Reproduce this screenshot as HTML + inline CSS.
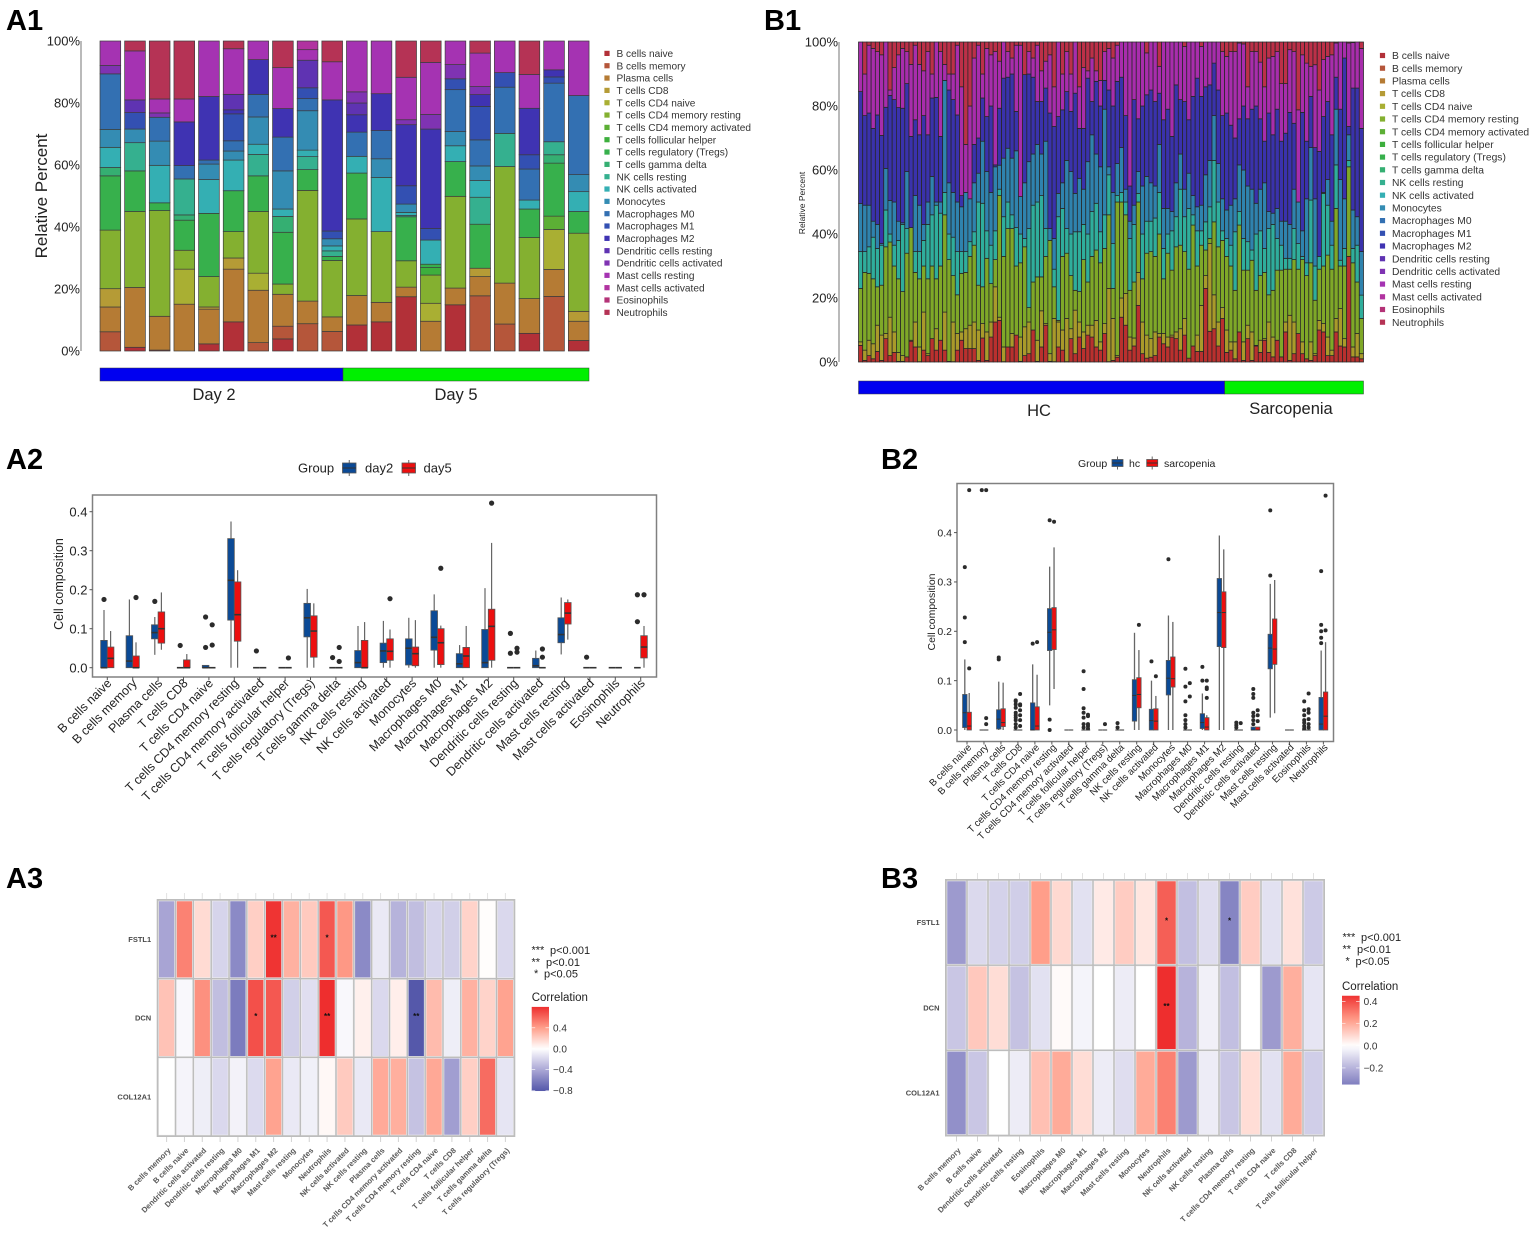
<!DOCTYPE html>
<html lang="en">
<head>
<meta charset="utf-8">
<title>Immune cell composition figure</title>
<style>
html,body{margin:0;padding:0;background:#fff;}
svg{display:block;font-family:"Liberation Sans",Arial,sans-serif;}
</style>
</head>
<body>
<svg id="fig" xmlns="http://www.w3.org/2000/svg" width="1535" height="1235" viewBox="0 0 1535 1235">
<rect x="0" y="0" width="1535" height="1235" fill="#fff"/>
<g font-weight="bold" font-size="29" fill="#000">
<text x="6" y="30">A1</text>
<text x="764" y="30">B1</text>
<text x="6" y="469">A2</text>
<text x="881" y="469">B2</text>
<text x="6" y="888">A3</text>
<text x="881" y="888">B3</text>
</g>
<text transform="translate(47,196) rotate(-90)" text-anchor="middle" font-size="17" fill="#222">Relative Percent</text>
<text transform="translate(805,203) rotate(-90)" text-anchor="middle" font-size="8.5" fill="#222">Relative Percent</text>
<text transform="translate(63,584) rotate(-90)" text-anchor="middle" font-size="12.5" fill="#222">Cell composition</text>
<text transform="translate(935,612) rotate(-90)" text-anchor="middle" font-size="10.5" fill="#222">Cell composition</text>
<g id="a1"></g>
<g id="b1"></g>
<g id="a2"></g>
<g id="b2"></g>
<g id="a3"></g>
<g id="b3"></g>
</svg>
<script>
const cellTypes = ["B cells naive","B cells memory","Plasma cells","T cells CD8","T cells CD4 naive","T cells CD4 memory resting","T cells CD4 memory activated","T cells follicular helper","T cells regulatory (Tregs)","T cells gamma delta","NK cells resting","NK cells activated","Monocytes","Macrophages M0","Macrophages M1","Macrophages M2","Dendritic cells resting","Dendritic cells activated","Mast cells resting","Mast cells activated","Eosinophils","Neutrophils"];
const cellColors = ["#B23038","#B5563A","#B57B34","#B59B36","#A9AF33","#84B030","#5CAF35","#3DAF3D","#37B04C","#35AF72","#35B08F","#34AFB3","#348CB3","#3370B2","#3350B2","#3F33B2","#5F33B2","#7F33B2","#A533B2","#B133A0","#B43377","#B53355"];

const percentTicks = [0,20,40,60,80,100];
const a1Groups = ["Day 2","Day 5"];
const a1GroupSizes = [10,10];
const a1Segments = [
[[1,6.2],[2,8],[3,5.9],[5,18.9],[8,17.5],[9,2.7],[11,6.5],[12,5.8],[13,17.9],[17,2.7],[18,7.9]],
[[0,1.2],[2,19.3],[5,24.5],[8,13.1],[10,9.1],[12,4.4],[14,5.3],[16,4.1],[18,15.8],[21,3.2]],
[[0,0.3],[2,10.9],[5,34.1],[8,2.5],[11,12.1],[12,7.8],[13,7.7],[17,1.4],[18,4.5],[21,18.7]],
[[2,15.1],[4,11.3],[5,6.1],[8,9.7],[9,1.7],[10,11.6],[13,4.3],[15,14.1],[18,7.4],[21,18.7]],
[[0,2.3],[2,11.2],[3,0.7],[5,9.8],[8,20.4],[11,10.9],[12,5],[13,1.3],[15,20.5],[18,17.9]],
[[0,9.4],[2,17],[3,3.6],[5,8.5],[8,13.2],[11,9.9],[12,2.9],[13,3.3],[14,8.7],[15,1.3],[16,5],[18,14.7],[21,2.5]],
[[1,2.7],[2,16.9],[4,5.5],[5,19.9],[8,11.5],[10,6.9],[11,3.3],[12,8.8],[13,7.3],[15,11.2],[18,6]],
[[0,3.9],[1,4.1],[2,10.3],[5,3.3],[8,16.7],[9,5.1],[11,2.4],[12,12.3],[13,10.9],[15,9.2],[18,13.2],[21,8.6]],
[[1,8.8],[2,7.3],[5,35.7],[8,6.7],[10,4.2],[11,2.1],[12,12.7],[13,3.9],[14,3.5],[16,8.9],[18,3.4],[19,2.8]],
[[1,6.3],[2,4.7],[5,18.2],[8,1.3],[10,1.8],[11,1.6],[12,2.3],[14,2.5],[15,42.3],[18,12.3],[21,6.7]],
[[0,8.4],[2,9.5],[5,24.7],[8,14.8],[11,5.4],[13,7.8],[15,5.6],[16,3.8],[17,3.6],[18,16.4]],
[[0,9.4],[2,6.3],[5,22.8],[11,17.5],[12,6],[13,9.1],[15,11.9],[18,17]],
[[0,17.5],[2,3.1],[5,8.5],[8,14.2],[10,0.4],[11,1],[12,2.7],[14,5.9],[15,19.7],[17,1.6],[18,13.7],[21,11.7]],
[[2,9.6],[4,5.8],[5,9.1],[7,2.4],[8,1.1],[11,7.8],[14,3.7],[15,32.1],[17,4.7],[18,16.8],[21,6.9]],
[[0,14.9],[2,5.4],[5,29.6],[8,11.2],[11,5.1],[12,4.6],[13,13.5],[14,3.5],[17,4.6],[18,7.6]],
[[1,17.8],[2,6.2],[3,2.7],[8,14.2],[10,8.7],[11,5.4],[12,4.7],[13,8.4],[14,10.8],[15,3.8],[17,2.6],[18,10.8],[21,3.9]],
[[1,8.7],[2,13.2],[5,37.6],[10,10.7],[13,14.9],[14,4.7],[18,10.2]],
[[0,5.7],[2,11.2],[5,19.7],[8,9.2],[11,2.9],[13,10],[14,4.6],[15,15],[18,10.9],[21,10.8]],
[[1,17.6],[2,8.7],[4,12.9],[6,4.3],[8,17.1],[9,2.7],[10,4.2],[13,18.9],[14,2],[15,2.3],[18,9.3]],
[[0,3.4],[2,6.2],[3,3.2],[5,25.2],[8,7],[11,6.4],[12,5.5],[13,25.5],[18,17.6]]
];

const b1Groups = ["HC","Sarcopenia"];
const b1GroupSizes = [87,33];
/* Upper edge (cumulative percent) of each colour band, one value per sample */
const b1BCellsTop = [5.2,.5,2,1,3.3,.5,7.3,2,3,.2,.2,1.6,6.5,4.7,.1,3.7,2,7.3,3.7,6.8,3.7,.2,.1,3.7,6.8,4.2,4.2,4.2,.5,7.5,.5,7.8,12.5,13,.1,4.7,4.7,8.4,.2,2,2.6,10,.2,4.7,11.5,.2,.1,4.7,3.7,.1,7.3,2.6,7.8,4.2,8.4,7.8,4.7,3.7,8.9,.1,
.5,1.5,14,11.5,3.7,5,17.7,2.6,1.2,1.5,2,7.8,5.7,4.7,7.8,7.3,3.7,8.4,1.2,5,3.3,3.3,23,9.6,10.4,5,13.6,3,3.7,1,9.4,.5,7.3,.5,5,3,6.8,3,1.6,6.8,1.6,9.4,.5,2.6,8.9,2.6,1,.5,2,10,9.4,2,2,9.4,5,4.7,33,1.6,1.6,1];
const b1PlasmaCd8Top = [6.3,3.7,6.8,5.7,11.5,8.4,8.9,14,9.4,3,2,0,6.8,12.5,4.7,15.6,2.6,5.2,10.4,3.7,15.6,0,12.5,8.9,9.4,10.4,11.5,12.5,10,12,9.4,12.5,23.5,14,4.7,4.7,8.9,8.4,7.8,11,12.5,6.3,6.8,16,12,2.6,13.6,12.5,10,13.6,10.4,16.2,12.5,9.4,11.5,11.5,13,6.3,12,23,
13.6,2,20,21.4,7.8,7.5,28,12.5,8.4,7.3,9.4,8.9,8.9,7.8,8.4,9.4,10.4,13.6,.1,1,8.4,17.7,27,37,21,12.5,17,10,6.3,6.3,9.4,6.3,11.5,9.4,5.2,6.8,7.3,12.5,7.8,6.3,1.6,12.5,14.6,12.5,5.2,6.3,.5,6.3,2.6,13,12,7.8,3.7,13.6,16.7,7.3,33,4.7,8.9,2.6];
const b1Cd4Top = [23,28,27.7,26,23.5,24,36,37.5,30,26,22,34,42,28,26,30,26,30,26,30,46,32,27,21,27.7,28,33,36.5,24,23.5,32.4,24.5,32,52,33,41.7,41.7,30,31,36,17,25,26.6,26.6,33,38,23.5,13,33,34,27,22.4,22,32,25,33,35,31,35.5,46,
23,50,50,46,22.4,25,50,26,34,34.5,33,40,26,34,28.7,36,36.5,34.5,29,42.8,30,36.5,35,38.6,43.8,36,38,33,30,22.4,42.8,28.7,28.7,31.8,22.4,27,28,21,22.4,28.7,28.7,29,29,32,29,32,27,31,19.3,29,30,33.4,29,48,30,30,61,31,25,13.6];
const b1NkTop = [34.5,34.5,36,39,35.5,36.5,47.5,40,36.5,38,43,41.7,42,34.5,34.5,38,43,46,49,46.5,53,40,39,34.5,34.5,34.5,37.6,40.7,50,49.6,41,36.5,41,54,45.4,50,46,42,40,38.6,41.7,49,50,52,41.7,36.5,29,45.4,48,41.7,40,40.7,40.7,43,40,47,49.6,40.7,46,58.5,
37,52,53,50,38.6,43,52.7,40,44,44,45,53,35.5,40,41,45.4,54,45.4,48,46,41,41,43.8,48.5,63,50,41,38.6,36.5,40.7,47,38.6,37.6,35,40,41,35.5,41.7,43,38.6,36.5,32.4,32.4,41.7,37,33,31,50.6,30,33,52.7,49,36.5,61.6,31.8,35.5,63,35.5,36.5,20.9];
const b1MonocyteTop = [49.5,49,49,44,43,37,60.5,50.5,50,44,43.5,59.5,39.7,52,49,43,50,58,50,50,88,56,53,50,48.5,53,51,56,59,69,59.5,53,61,61.5,63.7,66.8,63.7,66,51.7,56,62.6,65,68,65,69,41.7,38.6,52.7,56,63,59.5,52.7,57.4,54,62.6,71,65,61,79,61,
53,62,67,54,44,49,59.5,55,58,56,55,68,48,48,47,56,65,54,59,52,48.5,49,58.5,63,77,62,51,47.5,49,51,61.6,60,55,54,49.6,54,56,47,46.5,48,44,44,43,54,50,41,51,67,51,33,53,57,44,79,57,51,71,47.5,45.4,34.5];
const b1MacrophageTop = [84.5,77,77.8,73,77.2,70.8,79.6,83.3,82,79.5,79.3,87,70.5,75.7,71,77,71,82.5,82.7,70.5,88,85,82,77.2,52,53,51,68,70,82.5,76.7,80,61.6,79.3,88.7,89,90,78.3,51.7,89.8,90,89,81.4,81.4,85.6,77.8,73.6,76.7,78.8,84.5,78.3,84,73,73,88.7,81.4,87.7,80,88,85,
80,87.7,89,77,55,82,76,80,83.5,85,81.4,84,75.7,79,70.5,86.6,82,81.4,75.7,83,88.7,83,86,86.6,93.4,85,77,77.8,74,70,76,80,76,79,80,76,69,77.8,71,79,69,71.5,78,74.6,50,78,69,83,67,65.8,76.7,81.4,71,89,79,95,73.6,85.6,85.6,73];
const b1MastTop = [100,90,99,98,97,96,100,85,92,96,98,97,93,99,93,91,97,90,100,97,93,90,90,99,86,68,80,95,99,90,98,96,97,94,100,97,95,99,99,82,97,95,99,91,94,96,86,100,90,97,90,100,86,92,91,95,91,88,97,98,
95,99,100,100,100,100,100,100,96.6,100,100,92.4,100,100,100,100,100,98.6,100,100,100,98.6,100,100,100,100,97,95.5,97,97,99.7,99.4,86,97,97,93.7,86,95,95.5,97,87,87,97.6,97,78.8,96,93.4,92.4,92.9,85,94.5,95.5,96,99.7,100,100,99.7,99.8,100,98];
const b1Bands = [b1BCellsTop,b1PlasmaCd8Top,b1Cd4Top,b1NkTop,b1MonocyteTop,b1MacrophageTop,b1MastTop];
const b1BandColors = ["#BA302E","#A99A2A","#7FA828","#2FAE9C","#2F83AE","#3A32AC","#A82DAC","#BC3048"];
const b1BandNames = ["b-cells","plasma-cd8","cd4-resting","nk-cells","monocytes","macrophages","mast-cells","neutrophils"];

const a2Ticks = [0,0.1,0.2,0.3,0.4];
const a2Groups = ["day2","day5"];
/* each box: whisker low, q1, median, q3, whisker high */
const a2Day2 = [[0,0,0,.07,.148],[0,0,.017,.082,.175],[.033,.074,.09,.11,.13],[0,0,0,0,0],[0,0,0,.006,.006],[0,.122,.224,.331,.375],[0,0,0,0,0],[0,0,0,0,0],[0,.079,.128,.165,.202],[0,0,0,0,0],[0,0,.013,.044,.107],[0,.013,.043,.063,.12],[0,.007,.05,.074,.128],[0,.045,.078,.146,.188],[0,0,.01,.036,.058],[0,0,.013,.098,.204],[0,0,0,0,0],[0,0,.005,.024,.044],[.034,.064,.085,.128,.18],[0,0,0,0,0],[0,0,0,0,0],[0,0,0,0,0]];
const a2Day5 = [[0,0,.024,.053,.094],[0,0,0,.03,.065],[.046,.063,.1,.143,.193],[0,0,0,.02,.035],[0,0,0,0,0],[0,.068,.136,.22,.25],[0,0,0,0,0],[0,0,0,0,0],[0,.027,.094,.133,.165],[0,0,0,0,0],[0,0,0,.07,.117],[0,.019,.042,.074,.098],[0,.005,.036,.053,.122],[0,.008,.064,.1,.108],[0,0,.03,.052,.107],[0,.019,.106,.15,.32],[0,0,0,0,0],[0,0,0,0,0],[.072,.112,.14,.167,.175],[0,0,0,0,0],[0,0,0,0,0],[0,.025,.053,.082,.107]];
const a2Day2Outliers = [[.175],[],[.17],[.057],[.052,.13],[],[.043],[],[],[.026],[],[],[],[],[],[],[.037,.088],[],[],[.027],[],[.118,.187]];
const a2Day5Outliers = [[],[.18],[],[],[.058,.11],[],[],[.025],[],[.016,.052],[],[.177],[],[.255],[],[.422],[.04,.05],[.027,.048],[],[],[],[.187]];

const b2Ticks = [0,0.1,0.2,0.3,0.4];
const b2Groups = ["hc","sarcopenia"];
const b2Hc = [[0,.005,.035,.072,.143],[0,0,0,0,0],[0,.002,.022,.041,.098],[0,0,0,0,0],[0,0,0,.055,.133],[.05,.161,.198,.246,.331],[0,0,0,0,0],[0,0,0,0,0],[0,0,0,0,0],[0,0,0,0,0],[0,.018,.07,.102,.197],[0,0,.019,.042,.1],[0,.071,.105,.141,.232],[0,0,0,0,0],[0,.003,.015,.033,.074],[0,.169,.238,.307,.394],[0,0,0,0,0],[0,0,0,.006,.006],[.025,.124,.166,.194,.296],[0,0,0,0,0],[0,0,0,0,0],[0,0,.012,.066,.161]];
const b2Sarcopenia = [[0,0,.008,.036,.075],[0,0,0,0,0],[0,.007,.015,.043,.096],[0,0,0,0,0],[0,0,.008,.047,.112],[.083,.163,.203,.248,.37],[0,0,0,0,0],[0,0,0,0,0],[0,0,0,0,0],[0,0,0,0,0],[0,.045,.072,.106,.162],[0,0,.018,.043,.069],[0,.087,.104,.148,.219],[0,0,0,0,0],[0,0,.006,.025,.03],[0,.167,.238,.28,.366],[0,0,0,0,0],[0,0,0,.006,.006],[.034,.133,.164,.225,.304],[0,0,0,0,0],[0,0,0,0,0],[0,0,.028,.077,.178]];
const b2HcOutliers = [[.178,.228,.33],[.486],[.143,.147],[.005,.012,.02,.025,.03,.035,.045,.052,.058,.06],[.175],[0,.021,.425],[],[.005,.012,.025,.035,.044,.083,.119],[],[.005,.014],[],[.139],[.346],[.005,.012,.02,.03,.058,.088,.124],[.1,.128],[],[.005,.01,.015],[.012,.02,.028,.035,.065,.073,.083],[.313,.445],[],[.003,.008,.015,.02,.03,.04,.058],[.176,.187,.2,.213,.322]];
const b2SarcopeniaOutliers = [[.125,.486],[.012,.024,.486],[],[.008,.02,.03,.04,.05,.052,.073],[.178],[.422],[],[.003,.008,.012,.028,.031],[.012],[],[.213],[.109],[],[.068,.095],[.065,.083,.086,.1],[],[.014],[.018,.03,.04],[],[],[.005,.012,.022,.035,.042,.074],[.202,.475]];

const heatGenes = ["FSTL1","DCN","COL12A1"];
const a3Cells = ["B cells memory","B cells naive","Dendritic cells activated","Dendritic cells resting","Macrophages M0","Macrophages M1","Macrophages M2","Mast cells resting","Monocytes","Neutrophils","NK cells activated","NK cells resting","Plasma cells","T cells CD4 memory activated","T cells CD4 memory resting","T cells CD4 naive","T cells CD8","T cells follicular helper","T cells gamma delta","T cells regulatory (Tregs)"];
const a3Values = [
[-.42,.5,.15,-.2,-.55,.2,.78,.32,.22,.65,.42,-.55,-.1,-.35,-.3,-.2,-.22,.18,.01,-.18],
[.25,-.03,.45,-.3,-.62,.68,.65,-.22,-.15,.8,-.03,.06,-.18,.07,-.8,.28,-.08,.32,.18,.38],
[0,-.05,-.08,-.18,-.06,-.17,.38,-.1,-.07,.03,.22,-.1,.35,.33,-.28,.36,-.45,.2,.58,-.12]];
const a3Stars = [
["","","","","","","**","","","*","","","","","","","","","",""],
["","","","","","*","","","","**","","","","","**","","","","",""],
["","","","","","","","","","","","","","","","","","","",""]];
const a3LegendTicks = [0.4,0,-0.4,-0.8];
const b3Cells = ["B cells memory","B cells naive","Dendritic cells activated","Dendritic cells resting","Eosinophils","Macrophages M0","Macrophages M1","Macrophages M2","Mast cells resting","Monocytes","Neutrophils","NK cells activated","NK cells resting","Plasma cells","T cells CD4 memory resting","T cells CD4 naive","T cells CD8","T cells follicular helper"];
const b3Values = [
[-.27,-.1,-.12,-.13,.23,.09,-.08,.05,.12,.06,.36,-.17,-.09,-.33,.12,-.08,.07,-.14],
[-.15,.13,.08,-.16,-.08,.012,-.03,0,-.05,0,.46,-.2,-.04,-.17,0,-.27,.19,-.07],
[-.3,-.15,0,-.05,.15,.2,.08,-.05,-.09,.2,.29,-.27,-.05,-.15,.08,-.08,.2,-.13]];
const b3Stars = [
["","","","","","","","","","","*","","","*","","","",""],
["","","","","","","","","","","**","","","","","","",""],
["","","","","","","","","","","","","","","","","",""]];
const b3LegendTicks = [0.4,0.2,0,-0.2];
const pLegendStars = ["***","**","*"];
const pLegendLabels = ["p<0.001","p<0.01","p<0.05"];

const NS = "http://www.w3.org/2000/svg";
function svgEl(parent, tag, attrs, text) {
  const node = document.createElementNS(NS, tag);
  for (const k in attrs) node.setAttribute(k, attrs[k]);
  if (text !== undefined) node.textContent = text;
  parent.appendChild(node);
  return node;
}
function fmtPct(v){ return v + "%"; }
function slug(s){ return s.toLowerCase().replace(/[^a-z0-9]+/g,"-").replace(/^-|-$/g,""); }

/* ---------- stacked bar helpers ---------- */
function yAxisPercent(g, prefix, axisX, yScale) {
  const axis = svgEl(g, "line", {x1:axisX,x2:axisX,y1:yScale(100),y2:yScale(0),stroke:"#a8a8a8","stroke-width":1.6});
  
  
  percentTicks.forEach(function(t){
    const lab = svgEl(g, "text", {x:axisX-1,y:yScale(t)+4.5,"text-anchor":"end","font-size":13,fill:"#222"}, fmtPct(t));
    
    
  });
}
function cellLegend(g, prefix, squareX, textX, startY, stepY, fontSize) {
  cellTypes.forEach(function(name, i){
    const y = startY + i*stepY;
    const sw = svgEl(g, "rect", {x:squareX-2.6,y:y-2.6,width:5.2,height:5.2,fill:cellColors[i]});
    
    
    const t = svgEl(g, "text", {x:textX,y:y+3.6,"font-size":fontSize,fill:"#333"}, name);
    
    
  });
}
function groupStrip(g, prefix, labels, sizes, xStart, step, y, h, labelXs, labelYs) {
  const fills = ["#0000F0","#00F000"];
  let acc = 0;
  labels.forEach(function(name, i){
    const x0 = xStart + acc*step;
    const w = sizes[i]*step;
    const r = svgEl(g, "rect", {x:x0,y:y,width:w,height:h,fill:fills[i],stroke:"#3a3a3a","stroke-width":0.5});
    
    
    const t = svgEl(g, "text", {x:labelXs[i],y:labelYs[i],"text-anchor":"middle","font-size":16.5,fill:"#222"}, name);
    
    
    acc += sizes[i];
  });
}

/* ---------- A1 ---------- */
(function(){
  const g = document.getElementById("a1");
  const yScale = function(v){ return 351 - v*3.1; };
  const x0 = 100, barW = 20.7, step = 24.65;
  yAxisPercent(g, "a1", 81, yScale);
  a1Segments.forEach(function(sample, i){
    const total = sample.reduce(function(s,p){ return s+p[1]; },0);
    let acc = 0;
    sample.forEach(function(p){
      const pct = p[1]/total*100;
      const rect = svgEl(g, "rect", {x:x0+i*step,y:yScale(acc+pct),width:barW,height:pct*3.1,fill:cellColors[p[0]],stroke:"#3c3c3c","stroke-width":0.7});
      
      
      acc += pct;
    });
  });
  groupStrip(g, "a1", a1Groups, a1GroupSizes, 100, 24.3, 368, 13, [214,456], [400,400]);
  const strip = g.lastElementChild;
  strip.previousElementSibling.setAttribute("width", 246);
  cellLegend(g, "a1", 607, 616.5, 53.4, 12.33, 10.1);
})();

/* ---------- B1 ---------- */
(function(){
  const g = document.getElementById("b1");
  const yScale = function(v){ return 362 - v*3.2; };
  const x0 = 858.5, step = 505/b1BCellsTop.length;
  yAxisPercent(g, "b1", 839, yScale);
  b1BCellsTop.forEach(function(_, i){
    let prev = 0;
    for (let b = 0; b <= b1Bands.length; b++) {
      const top = b < b1Bands.length ? Math.max(prev, b1Bands[b][i]) : 100;
      if (top > prev) {
        const rect = svgEl(g, "rect", {x:x0+i*step,y:yScale(top),width:step,height:(top-prev)*3.2,fill:b1BandColors[b],stroke:"#262626","stroke-width":0.75});
        
        
      }
      prev = top;
    }
  });
  groupStrip(g, "b1", b1Groups, b1GroupSizes, x0, step, 381, 13, [1039,1291], [416,414]);
  cellLegend(g, "b1", 1382.5, 1392, 55.5, 12.7, 10.3);
})();

/* ---------- box plots ---------- */
function boxChart(cfg) {
  const g = document.getElementById(cfg.id);
  const panel = svgEl(g, "rect", {x:cfg.px,y:cfg.py,width:cfg.pw,height:cfg.ph,fill:"#fff",stroke:"#808080","stroke-width":1.5});
  
  
  const yScale = function(v){ return cfg.y0 - v*cfg.yk; };
  const xScale = function(i){ return cfg.x0 + i*cfg.xStep; };
  cfg.ticks.forEach(function(t){
    const tick = svgEl(g, "line", {x1:cfg.px-3,x2:cfg.px,y1:yScale(t),y2:yScale(t),stroke:"#555","stroke-width":1});
    
    
    const lab = svgEl(g, "text", {x:cfg.px-5,y:yScale(t)+cfg.tickFont*0.36,"text-anchor":"end","font-size":cfg.tickFont,fill:"#222"}, t.toFixed(1));
    
    
  });
  cellTypes.forEach(function(name, i){
    const x = xScale(i);
    const tick = svgEl(g, "line", {x1:x,x2:x,y1:cfg.py+cfg.ph,y2:cfg.py+cfg.ph+3,stroke:"#555","stroke-width":1});
    
    
    const lab = svgEl(g, "text", {transform:"translate("+(x+cfg.labDx)+","+cfg.labY+") rotate(-45)","text-anchor":"end","font-size":cfg.labFont,fill:"#222"}, name);
    
    
  });
  cfg.series.forEach(function(s, si){
    const off = si === 0 ? -cfg.dodge : cfg.dodge;
    s.boxes.forEach(function(b, i){
      const cx = xScale(i) + off;
      const wh = svgEl(g, "line", {x1:cx,x2:cx,y1:yScale(b[0]),y2:yScale(b[4]),stroke:"#666","stroke-width":cfg.whisker});
      
      
      const box = svgEl(g, "rect", {x:cx-cfg.boxW/2,y:yScale(b[3]),width:cfg.boxW,height:Math.max(0,yScale(b[1])-yScale(b[3])),fill:s.fill,stroke:"#555","stroke-width":0.8});
      
      
      const med = svgEl(g, "line", {x1:cx-cfg.boxW/2,x2:cx+cfg.boxW/2,y1:yScale(b[2]),y2:yScale(b[2]),stroke:"#333","stroke-width":cfg.median});
      
      
      s.outliers[i].forEach(function(v){
        const dot = svgEl(g, "circle", {cx:cx,cy:yScale(v),r:cfg.dot,fill:"#2b2b2b"});
        
        
      });
    });
  });
  const title = svgEl(g, "text", {x:cfg.legX,y:cfg.legY+cfg.legFont*0.36,"font-size":cfg.legFont,fill:"#222"}, "Group");
  
  
  cfg.series.forEach(function(s, si){
    const kx = cfg.keyX[si];
    const wh = svgEl(g, "line", {x1:kx+cfg.keyW/2,x2:kx+cfg.keyW/2,y1:cfg.legY-cfg.keyH/2-3,y2:cfg.legY+cfg.keyH/2+3,stroke:"#666","stroke-width":1});
    
    
    const box = svgEl(g, "rect", {x:kx,y:cfg.legY-cfg.keyH/2,width:cfg.keyW,height:cfg.keyH,fill:s.fill,stroke:"#555","stroke-width":0.8});
    
    
    const med = svgEl(g, "line", {x1:kx,x2:kx+cfg.keyW,y1:cfg.legY,y2:cfg.legY,stroke:"#333","stroke-width":1});
    
    
    const t = svgEl(g, "text", {x:cfg.keyTextX[si],y:cfg.legY+cfg.legFont*0.36,"font-size":cfg.legFont,fill:"#222"}, s.name);
    
    
  });
}
boxChart({id:"a2",px:92.5,py:495,pw:564,ph:182,y0:667.7,yk:390,x0:107.3,xStep:25.4,ticks:a2Ticks,tickFont:13,labDx:5,labY:684,labFont:12.5,dodge:3.3,boxW:6.6,whisker:1.2,median:1.6,dot:2.6,
  series:[{name:a2Groups[0],fill:"#0B4A96",boxes:a2Day2,outliers:a2Day2Outliers},{name:a2Groups[1],fill:"#EC0F0F",boxes:a2Day5,outliers:a2Day5Outliers}],
  legX:298,legY:468,legFont:13,keyX:[342.5,402],keyW:13.5,keyH:10,keyTextX:[365,423.5]});
boxChart({id:"b2",px:957,py:483.5,pw:376.5,ph:258,y0:730,yk:493.5,x0:967,xStep:16.97,ticks:b2Ticks,tickFont:10.5,labDx:5,labY:748,labFont:9.8,dodge:2.2,boxW:4.4,whisker:1.3,median:1,dot:2,
  series:[{name:b2Groups[0],fill:"#0B4A96",boxes:b2Hc,outliers:b2HcOutliers},{name:b2Groups[1],fill:"#EC0F0F",boxes:b2Sarcopenia,outliers:b2SarcopeniaOutliers}],
  legX:1078,legY:463,legFont:10.5,keyX:[1112,1146.7],keyW:11,keyH:7,keyTextX:[1129,1164]});

/* ---------- heatmaps ---------- */
function divColor(t) {
  const posStops = [[255,255,255],[255,158,138],[238,46,46]];
  const negStops = [[255,255,255],[172,168,214],[85,88,170]];
  const stops = t >= 0 ? posStops : negStops;
  const a = Math.min(1, Math.abs(t));
  const seg = a < 0.5 ? 0 : 1;
  const f = (a - seg*0.5)/0.5;
  const c = stops[seg].map(function(v,i){ return Math.round(v + (stops[seg+1][i]-v)*f); });
  return "rgb(" + c.join(",") + ")";
}
function heatmap(cfg) {
  const g = document.getElementById(cfg.id);
  const cols = cfg.cells.length, cw = cfg.w/cols, rh = cfg.h/heatGenes.length;
  const bg = svgEl(g, "rect", {x:cfg.x-1,y:cfg.y-1,width:cfg.w+2,height:cfg.h+2,fill:"#bdbdbd"});
  
  
  cfg.cells.forEach(function(name, c){
    const cx = cfg.x + (c+0.5)*cw;
    const topTick = svgEl(g, "line", {x1:cx,x2:cx,y1:cfg.y-7,y2:cfg.y-1,stroke:"#e2e2e2","stroke-width":1});
    
    
    const tick = svgEl(g, "line", {x1:cx,x2:cx,y1:cfg.y+cfg.h+1,y2:cfg.y+cfg.h+6,stroke:"#d2d2d2","stroke-width":1});
    
    
    const lab = svgEl(g, "text", {transform:"translate("+(cx+4.6)+","+cfg.labY+") rotate(-45)","text-anchor":"end","font-size":7.7,"font-weight":"bold",fill:"#5a5a5a"}, name);
    
    
  });
  heatGenes.forEach(function(gene, r){
    const cy = cfg.y + (r+0.5)*rh;
    const lab = svgEl(g, "text", {x:cfg.x-6.5,y:cy+2.6,"text-anchor":"end","font-size":7.5,"font-weight":"bold",fill:"#4a4a4a"}, gene);
    
    
    cfg.values[r].forEach(function(v, c){
      const cell = svgEl(g, "rect", {x:cfg.x+c*cw+1,y:cfg.y+r*rh+1,width:cw-2,height:rh-2,fill:divColor(v/cfg.max),stroke:"#f4f4f4","stroke-width":0.5});
      
      
      if (cfg.stars[r][c]) {
        const star = svgEl(g, "text", {x:cfg.x+(c+0.5)*cw,y:cy+1,"text-anchor":"middle","font-size":8,"font-weight":"bold",fill:"#111"}, cfg.stars[r][c]);
        
        
      }
    });
  });
  pLegendStars.forEach(function(s, i){
    const y = cfg.pY + i*cfg.pStep;
    const st = svgEl(g, "text", {x:cfg.pStarX[i],y:y+3.5,"font-size":11,fill:"#222"}, s);
    
    
    const tx = svgEl(g, "text", {x:cfg.pTextX[i],y:y+4,"font-size":11,fill:"#222"}, pLegendLabels[i]);
    
    
  });
  const ct = svgEl(g, "text", {x:cfg.barX,y:cfg.corrY,"font-size":11.5,fill:"#222"}, "Correlation");
  
  
  const gradId = cfg.id + "-grad";
  const defs = svgEl(g, "defs", {});
  const grad = svgEl(defs, "linearGradient", {id:gradId,x1:0,y1:0,x2:0,y2:1});
  const nStops = 20;
  for (let i = 0; i <= nStops; i++) {
    const v = cfg.barMax + (cfg.barMin-cfg.barMax)*i/nStops;
    svgEl(grad, "stop", {offset:(i/nStops*100)+"%","stop-color":divColor(v/cfg.max)});
  }
  const yBar = function(v){ return cfg.barZero - v*cfg.barK; };
  const bar = svgEl(g, "rect", {x:cfg.barX,y:yBar(cfg.barMax),width:cfg.barW,height:yBar(cfg.barMin)-yBar(cfg.barMax),fill:"url(#"+gradId+")"});
  
  
  cfg.barTicks.forEach(function(t){
    const tk = svgEl(g, "line", {x1:cfg.barX,x2:cfg.barX+cfg.barW,y1:yBar(t),y2:yBar(t),stroke:"#fff","stroke-width":0.6,"stroke-dasharray":"3.5 "+(cfg.barW-7)});
    
    
    const lab = svgEl(g, "text", {x:cfg.barX+cfg.barW+4,y:yBar(t)+3.6,"font-size":10,fill:"#333"}, (t < 0 ? "\u2212" : "") + Math.abs(t).toFixed(1));
    
    
  });
}
heatmap({id:"a3",x:157.7,y:900,w:356.6,h:236,cells:a3Cells,values:a3Values,stars:a3Stars,max:0.8,labY:1151,
  pY:950,pStep:11.8,pStarX:[531.5,531.5,534],pTextX:[550,546,544],corrY:1001,barX:531.7,barW:17.3,barZero:1048.7,barK:52.25,barMax:0.8,barMin:-0.81,barTicks:a3LegendTicks});
heatmap({id:"b3",x:946,y:880,w:378,h:255.5,cells:b3Cells,values:b3Values,stars:b3Stars,max:0.46,labY:1151,
  pY:937,pStep:12,pStarX:[1342.5,1342.5,1345.5],pTextX:[1361,1357,1355.5],corrY:990,barX:1342,barW:17.6,barZero:1045.7,barK:111,barMax:0.45,barMin:-0.35,barTicks:b3LegendTicks});
</script>
</body>
</html>
